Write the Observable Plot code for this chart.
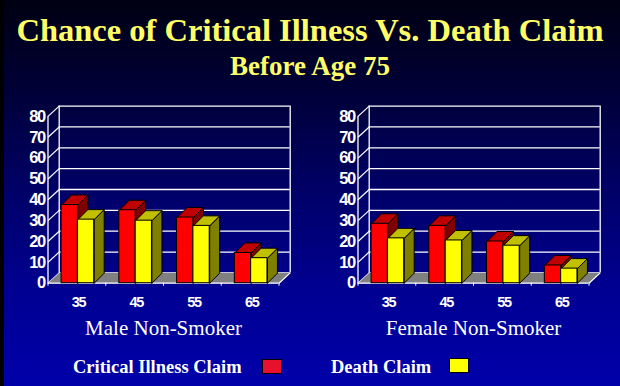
<!DOCTYPE html>
<html><head><meta charset="utf-8">
<script src="https://cdn.jsdelivr.net/npm/d3@7"></script>
<script src="https://cdn.jsdelivr.net/npm/@observablehq/plot@0.6"></script>
<style>
html,body{margin:0;padding:0;background:#000;}
#chart{position:relative;width:620px;height:386px;overflow:hidden;
 background:linear-gradient(to bottom,#000012 0%,#00003a 25%,#000068 50%,#000092 75%,#0000aa 100%);}
#strip{position:absolute;left:0;top:0;width:4px;height:386px;background:#000;}
.t{position:absolute;left:0;width:620px;text-align:center;color:#ffff66;font-family:"Liberation Serif","Times New Roman",serif;font-weight:bold;line-height:1;white-space:nowrap;}
#title{top:13.5px;font-size:32.5px;}
#subtitle{top:53px;font-size:27px;}
.panel{position:absolute;top:95px;width:310px;height:245px;}
#left{left:0;}
#right{left:310px;}
.panel g[font-weight="bold"] text{letter-spacing:-1.3px;}
.leg{position:absolute;color:#fff;font-family:"Liberation Serif","Times New Roman",serif;font-weight:bold;font-size:18.5px;line-height:18.5px;white-space:nowrap;top:357.5px;}
.sw{position:absolute;width:18px;height:13px;border:1px solid #000;}
</style></head><body>
<div id="chart">
 <div id="strip"></div>
 <div id="title" class="t"></div>
 <div id="subtitle" class="t"></div>
 <div id="left" class="panel"></div>
 <div id="right" class="panel"></div>
 <div id="leg0" class="leg" style="left:73px"></div>
 <div id="sw0" class="sw" style="left:262px;top:359px"></div>
 <div id="leg1" class="leg" style="left:331px"></div>
 <div id="sw1" class="sw" style="left:449px;top:358px"></div>
</div>
<script>
// ---- data ----
const titleText = "Chance of Critical Illness Vs. Death Claim";
const subtitleText = "Before Age 75";
const ages = ["35", "45", "55", "65"];
const seriesNames = ["Critical Illness Claim", "Death Claim"];
const panelTitles = ["Male Non-Smoker", "Female Non-Smoker"];
const maleCritical = [37.5, 35, 31.5, 14.5];
const maleDeath = [30.5, 30, 27.5, 12];
const femaleCritical = [28.5, 27.5, 20, 8.5];
const femaleDeath = [21.5, 20.5, 18, 7];
const yTicks = [0, 10, 20, 30, 40, 50, 60, 70, 80];

// ---- styling / geometry ----
const seriesColors = [
  {front: "#ff0000", top: "#c00000", side: "#800000", legend: "#e8112d"},
  {front: "#ffff00", top: "#c0c000", side: "#808000", legend: "#ffff00"}
];
const W = 310, H = 245, mL = 47.5, mR = 31.5, mT = 20.9, mB = 57.3;
const pxX = (W - mL - mR) / ages.length;
const pxY = (H - mT - mB) / 80;
const DX = 11.2 / pxX, DY = 10.3 / pxY;      // floor / wall depth in data units
const BDX = 10 / pxX, BDY = 10 / pxY;        // bar depth in data units
const barEdges = [0.235, 0.518, 0.80];       // bar positions within a category
const numFont = "'Liberation Sans',Arial,sans-serif";

document.getElementById("title").textContent = titleText;
document.getElementById("subtitle").textContent = subtitleText;
seriesNames.forEach((s, k) => {
  document.getElementById("leg" + k).textContent = s;
  document.getElementById("sw" + k).style.background = seriesColors[k].legend;
});

function panel(critical, death, title) {
  const n = ages.length;
  const bars = [];
  ages.forEach((a, i) => {
    [critical[i], death[i]].forEach((v, s) => {
      bars.push({i, s, v, x1: i + barEdges[s], x2: i + barEdges[s + 1]});
    });
  });
  const tops = [], sides = [];
  bars.forEach((b, k) => {
    const c = seriesColors[b.s];
    [[b.x1, b.v], [b.x2, b.v], [b.x2 + BDX, b.v + BDY], [b.x1 + BDX, b.v + BDY], [b.x1, b.v]]
      .forEach(([x, y]) => tops.push({k, x, y, fill: c.top}));
    [[b.x2, 0], [b.x2 + BDX, BDY], [b.x2 + BDX, b.v + BDY], [b.x2, b.v], [b.x2, 0]]
      .forEach(([x, y]) => sides.push({k, x, y, fill: c.side}));
  });
  const floor = [[0, 0], [n, 0], [n + DX, DY], [DX, DY], [0, 0]].map(([x, y]) => ({x, y}));
  const bounds = d3.range(n + 1);
  return Plot.plot({
    width: W, height: H,
    marginLeft: mL, marginRight: mR, marginTop: mT, marginBottom: mB,
    x: {domain: [0, n], axis: null},
    y: {domain: [0, 80], axis: null},
    color: {type: "identity"},
    style: {background: "transparent", overflow: "visible"},
    marks: [
      // back wall grid
      Plot.ruleY(yTicks, {y: d => d + DY, x1: DX, x2: n + DX, stroke: "white", strokeWidth: 1.3}),
      Plot.ruleX([DX, n + DX], {y1: DY, y2: 80 + DY, stroke: "white", strokeWidth: 1.3}),
      // side wall diagonals
      Plot.link(yTicks, {x1: 0, y1: d => d, x2: DX, y2: d => d + DY, stroke: "white", strokeWidth: 1.2}),
      Plot.ruleX([0], {y1: 0, y2: 80, stroke: "white", strokeWidth: 1.3}),
      // floor
      Plot.line(floor, {x: "x", y: "y", fill: "#808080", stroke: "none"}),
      Plot.ruleY([0], {x1: 0, x2: n, stroke: "white", strokeWidth: 1.3}),
      Plot.link([n], {x1: d => d, y1: 0, x2: d => d + DX, y2: DY, stroke: "white", strokeWidth: 1.2}),
      Plot.ruleX(bounds, {y1: 0, y2: -3 / pxY, stroke: "white", strokeWidth: 1}),
      // bars
      Plot.line(sides, {x: "x", y: "y", z: "k", fill: "fill", stroke: "black", strokeWidth: 1, strokeLinejoin: "miter"}),
      Plot.line(tops, {x: "x", y: "y", z: "k", fill: "fill", stroke: "black", strokeWidth: 1, strokeLinejoin: "miter"}),
      Plot.rect(bars, {x1: "x1", x2: "x2", y1: 0, y2: "v", fill: d => seriesColors[d.s].front, stroke: "black", strokeWidth: 1}),
      // labels
      Plot.text(yTicks, {x: 0, y: d => d, text: d => String(d), textAnchor: "end", dx: -3,
        fill: "white", fontWeight: "bold", fontSize: 16.5, fontFamily: numFont}),
      Plot.text(ages, {x: (d, i) => i + 0.53, y: 0, text: d => d, dy: 19,
        fill: "white", fontWeight: "bold", fontSize: 14.5, fontFamily: numFont}),
      Plot.text([title], {x: n / 2, y: 0, text: d => d, dy: 45,
        fill: "white", fontSize: 21, fontFamily: "'Liberation Serif','Times New Roman',serif"})
    ]
  });
}

document.getElementById("left").appendChild(panel(maleCritical, maleDeath, panelTitles[0]));
document.getElementById("right").appendChild(panel(femaleCritical, femaleDeath, panelTitles[1]));
</script>
</body></html>
